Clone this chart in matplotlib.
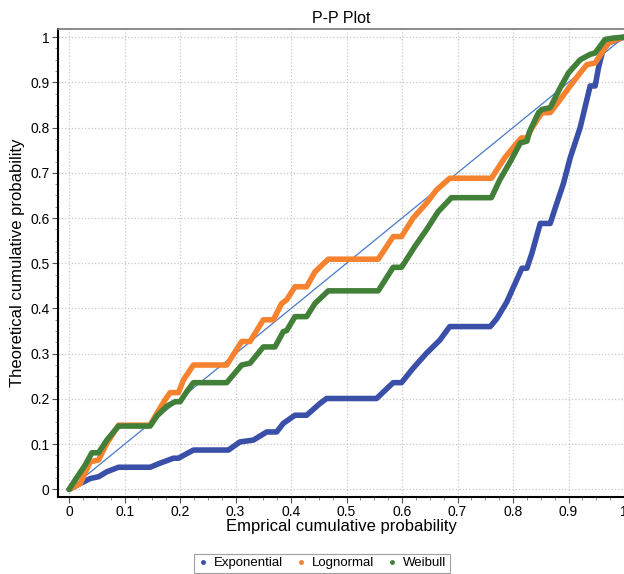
import matplotlib.pyplot as plt
from matplotlib.lines import Line2D
from matplotlib.ticker import MultipleLocator

plt.rcParams['font.family'] = ['Liberation Sans', 'DejaVu Sans']

# Exponential fit (empirical p, theoretical p)
exp_x = [0, 0.02, 0.038, 0.053, 0.068, 0.089, 0.146, 0.164, 0.188, 0.197, 0.224, 0.287,
         0.308, 0.332, 0.356, 0.374, 0.386, 0.407, 0.428, 0.452, 0.464, 0.554, 0.584, 0.599,
         0.620, 0.644, 0.668, 0.686, 0.759, 0.771, 0.789, 0.816, 0.825, 0.834, 0.849, 0.867,
         0.876, 0.891, 0.903, 0.921, 0.939, 0.948, 0.954, 0.963, 0.972, 1.0]
exp_y = [0, 0.013, 0.024, 0.028, 0.039, 0.049, 0.049, 0.058, 0.069, 0.069, 0.087, 0.087,
         0.105, 0.109, 0.127, 0.127, 0.146, 0.164, 0.164, 0.19, 0.201, 0.201, 0.236, 0.236,
         0.268, 0.301, 0.33, 0.36, 0.36, 0.378, 0.415, 0.489, 0.489, 0.522, 0.588, 0.588,
         0.622, 0.677, 0.733, 0.8, 0.892, 0.892, 0.932, 0.976, 0.987, 1.0]

# Lognormal fit
logn_x = [0, 0.02, 0.038, 0.053, 0.068, 0.089, 0.146, 0.158, 0.173, 0.182, 0.197, 0.206,
          0.224, 0.284, 0.311, 0.326, 0.35, 0.368, 0.383, 0.392, 0.407, 0.428, 0.443, 0.467,
          0.557, 0.584, 0.599, 0.620, 0.644, 0.662, 0.686, 0.761, 0.785, 0.807, 0.815, 0.825,
          0.834, 0.852, 0.867, 0.885, 0.903, 0.921, 0.933, 0.948, 0.960, 0.972, 0.987, 1.0]
logn_y = [0, 0.013, 0.061, 0.065, 0.102, 0.142, 0.142, 0.168, 0.198, 0.214, 0.214, 0.242,
          0.275, 0.275, 0.327, 0.327, 0.375, 0.375, 0.411, 0.419, 0.448, 0.448, 0.481, 0.509,
          0.509, 0.559, 0.559, 0.600, 0.633, 0.662, 0.688, 0.688, 0.733, 0.766, 0.777, 0.777,
          0.799, 0.833, 0.833, 0.862, 0.892, 0.921, 0.939, 0.943, 0.965, 0.987, 0.995, 1.0]

# Weibull fit
weib_x = [0, 0.011, 0.029, 0.041, 0.053, 0.068, 0.089, 0.146, 0.158, 0.176, 0.191, 0.2,
          0.212, 0.224, 0.284, 0.311, 0.326, 0.35, 0.371, 0.386, 0.392, 0.407, 0.428, 0.443,
          0.467, 0.557, 0.584, 0.599, 0.623, 0.644, 0.665, 0.689, 0.761, 0.776, 0.797, 0.813,
          0.825, 0.830, 0.846, 0.852, 0.867, 0.885, 0.9, 0.921, 0.939, 0.948, 0.966, 0.981, 1.0]
weib_y = [0, 0.021, 0.054, 0.081, 0.081, 0.109, 0.140, 0.140, 0.162, 0.184, 0.194, 0.194,
          0.216, 0.236, 0.236, 0.275, 0.279, 0.315, 0.315, 0.349, 0.351, 0.382, 0.382, 0.411,
          0.439, 0.439, 0.491, 0.491, 0.537, 0.574, 0.614, 0.645, 0.645, 0.684, 0.729, 0.766,
          0.770, 0.792, 0.833, 0.840, 0.844, 0.888, 0.921, 0.950, 0.962, 0.965, 0.995, 0.998, 1.0]

ref_line = [0, 1]

c_exp = '#3a50a8'
c_logn = '#f5822f'
c_weib = '#428039'

fig = plt.figure(figsize=(6.24, 5.74), dpi=100)
ax = fig.add_axes([0.093, 0.134, 0.907, 0.8155])

ax.plot(ref_line, ref_line, color='#4a78c8', lw=0.9, zorder=2)
ax.plot(exp_x, exp_y, color=c_exp, lw=4.0, solid_joinstyle='round', solid_capstyle='round', zorder=3)
ax.plot(logn_x, logn_y, color=c_logn, lw=4.0, solid_joinstyle='round', solid_capstyle='round', zorder=3)
ax.plot(weib_x, weib_y, color=c_weib, lw=4.0, solid_joinstyle='round', solid_capstyle='round', zorder=4)

ax.set_xlim(-0.02, 1.0)
ax.set_ylim(-0.017, 1.018)
ax.xaxis.set_major_locator(MultipleLocator(0.1))
ax.yaxis.set_major_locator(MultipleLocator(0.1))
ax.xaxis.set_minor_locator(MultipleLocator(0.025))
ax.yaxis.set_minor_locator(MultipleLocator(0.025))
ax.xaxis.set_major_formatter(lambda v, p: f'{v:g}')
ax.yaxis.set_major_formatter(lambda v, p: f'{v:g}')
ax.tick_params(which='major', direction='out', length=4, width=0.8, labelsize=10, color='#555555', pad=2)
ax.tick_params(which='minor', direction='out', length=2, width=0.6, color='#777777')
ax.grid(True, which='major', linestyle=':', color='#c8c8c8', lw=0.9)

ax.spines['left'].set_linewidth(1.5)
ax.spines['bottom'].set_linewidth(1.5)
ax.spines['top'].set_color('#777777')
ax.spines['top'].set_linewidth(1.2)
ax.spines['right'].set_visible(False)

ax.set_title('P-P Plot', fontsize=11.5, pad=4)
ax.set_xlabel('Emprical cumulative probability', fontsize=12, labelpad=0)
ax.set_ylabel('Theoretical cumulative probability', fontsize=12, labelpad=4)

handles = [Line2D([], [], ls='none', marker='o', ms=2.5, color=c) for c in (c_exp, c_logn, c_weib)]
leg = fig.legend(handles, ['Exponential', 'Lognormal', 'Weibull'], loc='center',
                 bbox_to_anchor=(0.516, 0.019), ncol=3, fontsize=9.5, frameon=True,
                 fancybox=False, edgecolor='#888888', handlelength=0.8, handletextpad=0.4,
                 columnspacing=1.0, borderpad=0.25)
leg.get_frame().set_linewidth(0.8)

fig.savefig('out.png', dpi=100)
